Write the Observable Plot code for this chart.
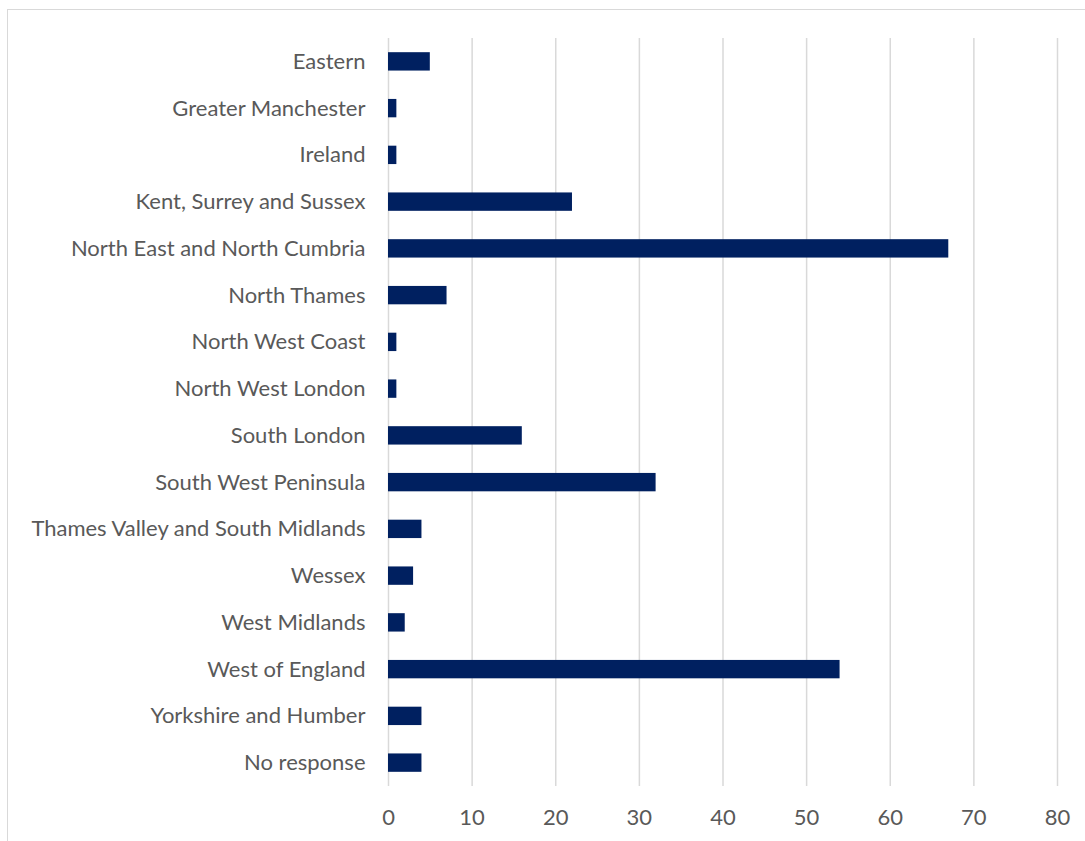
<!DOCTYPE html>
<html>
<head>
<meta charset="utf-8">
<script src="https://cdn.jsdelivr.net/npm/d3@7"></script>
<script src="https://cdn.jsdelivr.net/npm/@observablehq/plot@0.6"></script>
<style>
  html, body { margin: 0; padding: 0; background: #fff; overflow: hidden; }
  #wrap { position: relative; width: 1085px; height: 841px; }
  #border { position: absolute; left: 7px; top: 9px; width: 1200px; height: 1000px; border: 1.5px solid #d9d9d9; box-sizing: border-box; pointer-events: none; }
  #chart { position: absolute; left: 0; top: 0; }
</style>
</head>
<body>
<div id="wrap"><div id="border"></div><div id="chart"></div></div>
<script>
const regions = [
  "Eastern", "Greater Manchester", "Ireland", "Kent, Surrey and Sussex",
  "North East and North Cumbria", "North Thames", "North West Coast",
  "North West London", "South London", "South West Peninsula",
  "Thames Valley and South Midlands", "Wessex", "West Midlands",
  "West of England", "Yorkshire and Humber", "No response"
];
const counts = [5, 1, 1, 22, 67, 7, 1, 1, 16, 32, 4, 3, 2, 54, 4, 4];
const xTicks = [0, 10, 20, 30, 40, 50, 60, 70, 80];

const data = regions.map((r, i) => ({region: r, count: counts[i]}));

const chart = Plot.plot({
  width: 1085,
  height: 841,
  marginLeft: 388,
  marginRight: 28,
  marginTop: 38,
  marginBottom: 55,
  style: {fontFamily: "Lato, 'Open Sans', sans-serif", fontSize: "22px", color: "#595959", background: "transparent"},
  x: {domain: [0, 80], ticks: xTicks},
  y: {domain: regions, paddingInner: 0.607, paddingOuter: 0.3035, round: false, label: null},
  marks: [
    Plot.gridX(xTicks, {stroke: "#d9d9d9", strokeOpacity: 1, strokeWidth: 1.5}),
    Plot.barX(data, {x: "count", y: "region", fill: "#002060"}),
    Plot.axisY({tickSize: 0, tickPadding: 23, label: null, fontSize: 22, fill: "#595959"}),
    Plot.axisX({ticks: xTicks, tickSize: 0, tickPadding: 23, label: null, fontSize: 22, fill: "#595959"})
  ]
});
document.getElementById("chart").appendChild(chart);
</script>
</body>
</html>
